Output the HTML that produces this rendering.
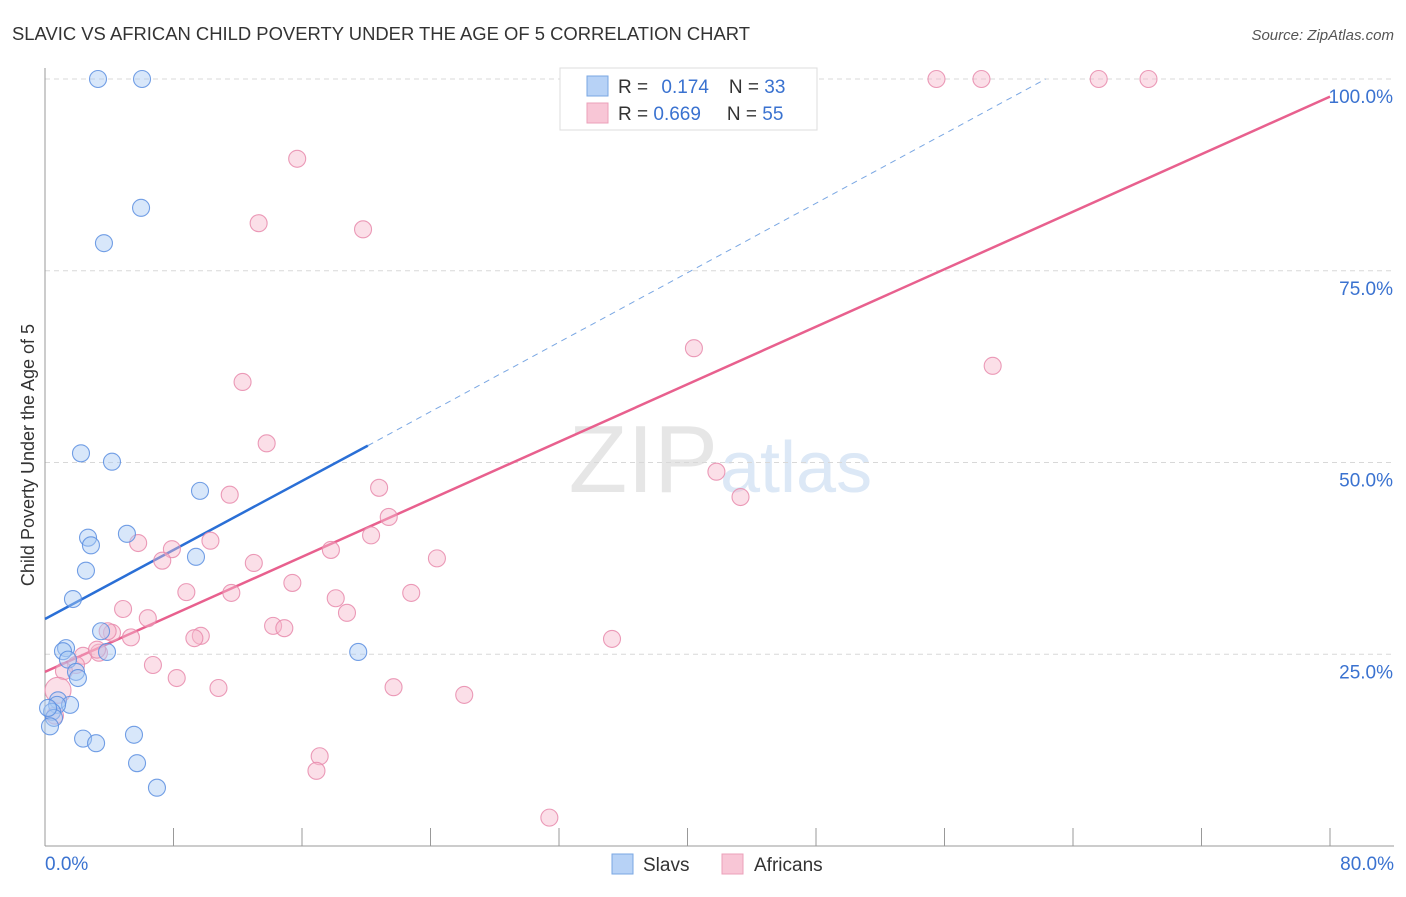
<!DOCTYPE html>
<html><head><meta charset="utf-8"><style>
body{margin:0;background:#fff;font-family:"Liberation Sans",sans-serif;}
svg text{font-family:"Liberation Sans",sans-serif;}
</style></head><body>
<svg id="chart" width="1406" height="892" viewBox="0 0 1406 892">
<text x="12" y="40" font-size="18" fill="#333" textLength="738" lengthAdjust="spacingAndGlyphs">SLAVIC VS AFRICAN CHILD POVERTY UNDER THE AGE OF 5 CORRELATION CHART</text>
<text x="1394" y="40" font-size="15" fill="#555" text-anchor="end" font-style="italic">Source: ZipAtlas.com</text>
<text x="718" y="492" font-size="96" fill="#e6e6e6" text-anchor="end" font-family="Liberation Serif">ZIP</text>
<text x="720" y="492" font-size="72" fill="#dce8f6">atlas</text>
<g id="grid"></g>
<g id="axes"></g>
<g id="trend"></g>
<g id="points"></g>
<text transform="translate(34,455) rotate(-90)" font-size="18" fill="#333" text-anchor="middle">Child Poverty Under the Age of 5</text>
<g>
<rect x="560" y="68" width="257" height="62" fill="#fff" stroke="#ddd"/>
<rect x="587" y="76" width="21" height="20" fill="#b7d2f6" stroke="#7aa7e3"/>
<rect x="587" y="103" width="21" height="20" fill="#f8c6d6" stroke="#eba0ba"/>
<text x="618" y="93" font-size="19" fill="#333">R = <tspan fill="#3a72d0" dx="8">0.174</tspan><tspan dx="20" fill="#333">N = </tspan><tspan fill="#3a72d0">33</tspan></text>
<text x="618" y="120" font-size="19" fill="#333">R = <tspan fill="#3a72d0">0.669</tspan><tspan dx="26" fill="#333">N = </tspan><tspan fill="#3a72d0">55</tspan></text>
</g>
<g>
<rect x="612" y="854" width="21" height="20" fill="#b7d2f6" stroke="#7aa7e3"/>
<text x="643" y="871" font-size="19" fill="#333">Slavs</text>
<rect x="722" y="854" width="21" height="20" fill="#f8c6d6" stroke="#eba0ba"/>
<text x="754" y="871" font-size="19" fill="#333">Africans</text>
</g>
</svg>
<script>
const xTicks = [0,8,16,24,32,40,48,56,64,72,80];
const yTicks = [25,50,75,100];
const yTickLabels = ["25.0%","50.0%","75.0%","100.0%"];
const xEdgeLabels = ["0.0%","80.0%"];
const slavX = [3.3,6.04,5.98,3.67,2.24,4.17,9.65,5.1,2.68,2.86,9.4,2.55,1.74,3.49,1.31,3.86,1.12,1.43,1.93,2.05,0.81,1.56,0.75,0.44,0.56,0.31,2.37,3.18,5.54,5.73,6.97,19.5,0.19];
const slavY = [100,100,83.2,78.6,51.2,50.1,46.3,40.7,40.2,39.2,37.7,35.9,32.2,28.0,25.8,25.3,25.4,24.3,22.7,21.9,19.0,18.4,18.4,17.5,16.7,15.6,14.0,13.4,14.5,10.8,7.6,25.3,18.0];
const afrX = [55.5,58.3,65.6,68.7,15.7,13.3,19.8,40.4,59.0,12.3,13.8,41.8,43.3,11.5,20.8,21.4,20.3,10.3,5.8,7.9,17.8,24.4,7.3,13.0,15.4,8.8,11.6,18.1,22.8,4.86,6.4,18.8,14.2,14.9,4.17,5.35,9.7,9.3,35.3,3.36,2.37,3.24,1.93,6.72,1.18,8.2,10.8,21.7,26.1,0.81,0.62,17.1,16.9,31.4,3.9];
const afrY = [100,100,100,100,89.6,81.2,80.4,64.9,62.6,60.5,52.5,48.8,45.5,45.8,46.7,42.9,40.5,39.8,39.5,38.7,38.6,37.5,37.2,36.9,34.3,33.1,33.0,32.3,33.0,30.9,29.7,30.4,28.7,28.4,27.8,27.2,27.4,27.1,27.0,25.2,24.8,25.6,23.6,23.6,22.8,21.9,20.6,20.7,19.7,20.3,17.0,11.7,9.8,3.7,28.0];
const slavTrend = [[0,29.6],[20.1,52.2]];
const slavTrendExt = [[20.1,52.2],[62.3,100]];
const afrTrend = [[0,22.7],[80,97.7]];

const X0=45,X1=1330,Y0=846,Y100=79;
const sx=v=>X0+(v/80)*(X1-X0);
const sy=v=>Y0-(v/100)*(Y0-Y100);
const NS="http://www.w3.org/2000/svg";
function mk(tag,attrs,parent){const e=document.createElementNS(NS,tag);for(const k in attrs)e.setAttribute(k,attrs[k]);document.getElementById(parent).appendChild(e);return e;}

yTicks.forEach((t,i)=>{
  const l=mk('line',{x1:X0,x2:1394,y1:sy(t),y2:sy(t),stroke:'#d8d8d8','stroke-dasharray':'5,4'},'grid');
  
  
  const tx=mk('text',{x:1393,y:sy(t)+24,'font-size':19,fill:'#3a72d0','text-anchor':'end'},'grid');
  tx.textContent=yTickLabels[i];
  
  
});
const ax=mk('line',{x1:X0,x2:X0,y1:68,y2:Y0,stroke:'#999'},'axes');


const bx=mk('line',{x1:X0,x2:1394,y1:Y0,y2:Y0,stroke:'#999'},'axes');


xTicks.forEach(t=>{
  const l=mk('line',{x1:sx(t),x2:sx(t),y1:Y0,y2:828,stroke:'#999'},'axes');
  
  
});
const xl0=mk('text',{x:45,y:870,'font-size':19,fill:'#3a72d0'},'axes');
xl0.textContent=xEdgeLabels[0];


const xl1=mk('text',{x:1394,y:870,'font-size':19,fill:'#3a72d0','text-anchor':'end'},'axes');
xl1.textContent=xEdgeLabels[1];



function pts(xs,ys,fill,stroke,name){
  xs.forEach((v,i)=>{
    const big = (name==='african-point' && v<1 && ys[i]>20 && ys[i]<21);
    const c=mk('circle',{cx:sx(v),cy:sy(ys[i]),r:big?13:8.5,fill:fill,'fill-opacity':0.45,stroke:stroke,'stroke-width':1.1,'stroke-opacity':0.85},'points');
    
    
  });
}
pts(afrX,afrY,'#f7b9cd','#e88aab','african-point');
pts(slavX,slavY,'#a9c9f5','#5a8ee0','slav-point');

const t1=mk('line',{x1:sx(afrTrend[0][0]),y1:sy(afrTrend[0][1]),x2:sx(afrTrend[1][0]),y2:sy(afrTrend[1][1]),stroke:'#e8608e','stroke-width':2.5},'trend');


const t2=mk('line',{x1:sx(slavTrend[0][0]),y1:sy(slavTrend[0][1]),x2:sx(slavTrend[1][0]),y2:sy(slavTrend[1][1]),stroke:'#2a6fd6','stroke-width':2.5},'trend');


const t3=mk('line',{x1:sx(slavTrendExt[0][0]),y1:sy(slavTrendExt[0][1]),x2:sx(slavTrendExt[1][0]),y2:sy(slavTrendExt[1][1]),stroke:'#7aa7e3','stroke-width':1,'stroke-dasharray':'6,5'},'trend');


</script>
</body></html>
